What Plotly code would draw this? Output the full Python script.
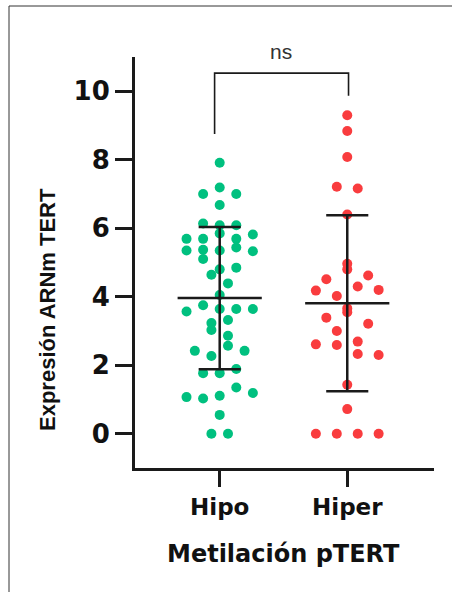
import plotly.graph_objects as go

# ---- data ----
categories = ["Hipo", "Hiper"]

hipo_values = [7.91, 7.19, 7.00, 7.00, 6.68, 6.14, 6.09, 6.09, 5.85, 5.82, 5.69, 5.69, 5.69,
               5.44, 5.37, 5.35, 5.35, 5.33, 5.10, 4.85, 4.80, 4.64, 4.39, 4.05, 3.75, 3.64,
               3.64, 3.64, 3.57, 3.32, 3.23, 3.03, 2.86, 2.57, 2.42, 2.42, 2.27, 1.89, 1.77,
               1.77, 1.35, 1.19, 1.11, 1.07, 1.03, 0.55, 0.0, 0.0]
hipo_slots = [0, 0, -2, 2, 0, -2, 0, 2, 0, 4, -4, -2, 2,
              2, -2, -4, 0, 4, -2, 2, 0, -1, 1, 0, -2, 0,
              2, 4, -4, 1, -1, -1, 1, 1, -3, 3, -1, 2, -2,
              0, 2, 4, 0, -4, -2, 0, -1, 1]

hiper_values = [9.30, 8.84, 8.08, 7.21, 7.16, 6.40, 4.96, 4.80, 4.62, 4.51, 4.30, 4.20, 4.18,
                4.02, 3.66, 3.55, 3.39, 3.21, 3.00, 2.69, 2.61, 2.59, 2.33, 2.30, 1.43, 0.72,
                0.0, 0.0, 0.0, 0.0]
hiper_slots = [0, 0, 0, -1, 1, 0, 0, 0, 2, -2, 1, 3, -3,
               -1, 0, 0, -2, 2, -1, 1, -3, -1, 1, 3, 0, 0,
               -3, -1, 1, 3]

means = [3.96, 3.81]
sds = [2.08, 2.57]

y_tick_vals = [0, 2, 4, 6, 8, 10]
y_tick_text = ["0", "2", "4", "6", "8", "10"]
significance_label = "ns"
y_title = "Expresión ARNm TERT"
x_title = "Metilación pTERT"

# ---- styling ----
W, H = 452, 592
ML, MR, MT, MB = 135, 18, 57, 124
GREEN = "#00C07F"
RED = "#F93C3E"
INK = "#1a1a1a"
slot_steps = [0.065, 0.082]
mean_half = 0.33
cap_half = 0.165

pw = W - ML - MR
ph = H - MT - MB
def px_to_paper_x(px):
    return (px - ML) / pw
def px_to_paper_y(py):
    return (H - MB - py) / ph

fig = go.Figure()

groups = [(hipo_values, hipo_slots, GREEN), (hiper_values, hiper_slots, RED)]
for gi, (vals, slots, col) in enumerate(groups):
    xs = [gi + s * slot_steps[gi] for s in slots]
    fig.add_trace(go.Scatter(x=xs, y=vals, mode="markers",
                             marker=dict(color=col, size=10, line=dict(width=0)),
                             showlegend=False, hoverinfo="y", cliponaxis=False))

for gi in range(len(categories)):
    m, s = means[gi], sds[gi]
    fig.add_trace(go.Scatter(x=[gi - mean_half, gi + mean_half], y=[m, m], mode="lines",
                             line=dict(color=INK, width=2.5), showlegend=False, hoverinfo="skip"))
    fig.add_trace(go.Scatter(x=[gi, gi], y=[m - s, m + s], mode="lines",
                             line=dict(color=INK, width=2.5), showlegend=False, hoverinfo="skip"))
    for yv in (m - s, m + s):
        fig.add_trace(go.Scatter(x=[gi - cap_half, gi + cap_half], y=[yv, yv], mode="lines",
                                 line=dict(color=INK, width=2.5), showlegend=False, hoverinfo="skip"))

# significance bracket
fig.add_shape(type="path", xref="x", yref="y",
              path="M -0.04 8.75 L -0.04 10.53 L 1.01 10.53 L 1.01 9.87",
              line=dict(color=INK, width=1.6))
fig.add_annotation(x=px_to_paper_x(281), y=px_to_paper_y(51), xref="paper", yref="paper",
                   text=significance_label, showarrow=False,
                   font=dict(family="Liberation Sans", size=21, color="#333"),
                   xanchor="center", yanchor="middle")

# axis titles
fig.add_annotation(x=px_to_paper_x(47), y=px_to_paper_y(309), xref="paper", yref="paper",
                   text="<b>" + y_title + "</b>", textangle=-90, showarrow=False,
                   font=dict(family="Liberation Sans", size=22, color="#111"),
                   xanchor="center", yanchor="middle")
fig.add_annotation(x=px_to_paper_x(283), y=px_to_paper_y(554), xref="paper", yref="paper",
                   text="<b>" + x_title + "</b>", showarrow=False,
                   font=dict(family="DejaVu Sans", size=24, color="#111"),
                   xanchor="center", yanchor="middle")

# frame lines (top and left)
fig.add_shape(type="line", xref="paper", yref="paper",
              x0=px_to_paper_x(9), x1=px_to_paper_x(460), y0=px_to_paper_y(6), y1=px_to_paper_y(6),
              line=dict(color="#333", width=1))
fig.add_shape(type="line", xref="paper", yref="paper",
              x0=px_to_paper_x(9), x1=px_to_paper_x(9), y0=px_to_paper_y(6), y1=px_to_paper_y(600),
              line=dict(color="#333", width=1))

fig.update_layout(
    width=W, height=H,
    margin=dict(l=ML, r=MR, t=MT, b=MB, pad=0),
    paper_bgcolor="white", plot_bgcolor="white",
    showlegend=False,
)
fig.update_xaxes(range=[-0.664, 1.68], tickmode="array", tickvals=[0, 1],
                 ticktext=["<b>%s</b>" % c for c in categories],
                 showgrid=False, zeroline=False, showline=True, linecolor=INK, linewidth=3,
                 ticks="outside", ticklen=16, tickwidth=2.5, tickcolor=INK,
                 tickfont=dict(family="DejaVu Sans", size=23, color="#111"))
fig.update_yaxes(range=[-1, 11], tickmode="array", tickvals=y_tick_vals,
                 ticktext=["<b>%s</b>" % t for t in y_tick_text],
                 showgrid=False, zeroline=False, showline=True, linecolor=INK, linewidth=3,
                 ticks="outside", ticklen=17, tickwidth=2.5, tickcolor=INK,
                 tickfont=dict(family="DejaVu Sans", size=26, color="#111"))

fig.write_html("out.html")
